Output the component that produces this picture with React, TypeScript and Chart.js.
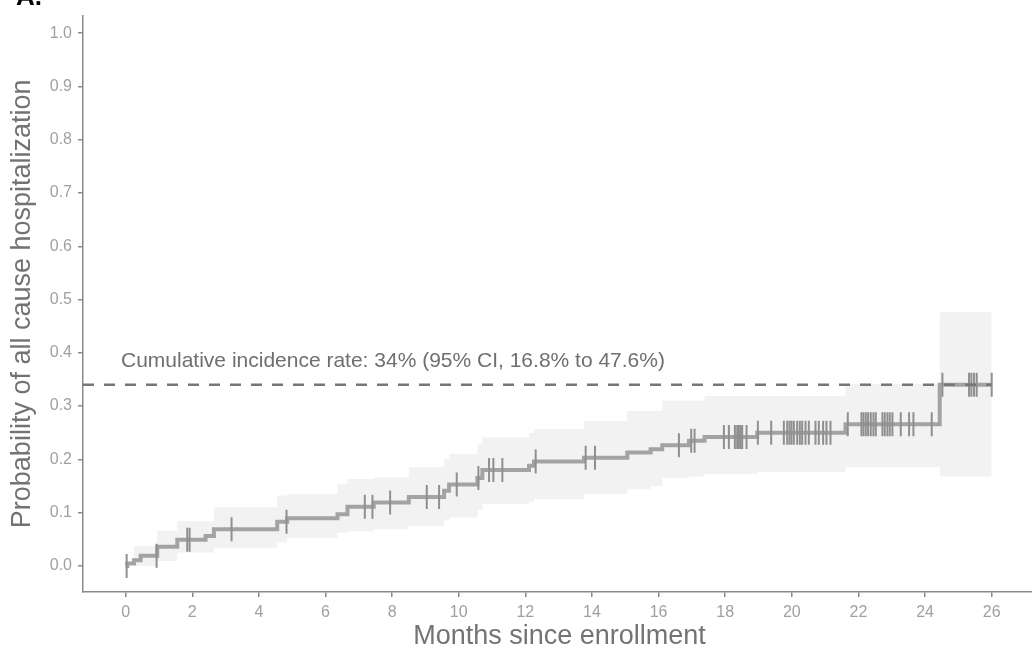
import React, { useEffect, useRef } from 'react';
import { Chart, registerables } from 'chart.js';

Chart.register(...registerables);

// ---- data ----
const eventTimes = [0, 0.05, 0.25, 0.45, 0.95, 1.55, 2.4, 2.65, 4.55, 4.85, 6.36, 6.66, 7.45, 8.5, 9.56, 9.71, 10.56, 10.71, 12.11, 12.26, 13.76, 15.06, 15.76, 16.11, 16.91, 17.38, 18.96, 21.61, 24.44];
const incidence = [0, 0.0045, 0.0107, 0.019, 0.036, 0.049, 0.056, 0.069, 0.083, 0.0895, 0.097, 0.111, 0.119, 0.1295, 0.141, 0.153, 0.165, 0.18, 0.188, 0.196, 0.203, 0.2127, 0.219, 0.2265, 0.2347, 0.242, 0.25, 0.266, 0.34];
const ciUpper = [0, 0.0045, 0.038, 0.038, 0.066, 0.084, 0.084, 0.11, 0.132, 0.135, 0.154, 0.163, 0.166, 0.185, 0.2, 0.21, 0.228, 0.241, 0.25, 0.257, 0.272, 0.291, 0.291, 0.31, 0.31, 0.319, 0.319, 0.342, 0.476];
const ciLower = [0, 0.0045, 0, 0, 0.009, 0.025, 0.025, 0.034, 0.044, 0.053, 0.062, 0.065, 0.069, 0.075, 0.085, 0.091, 0.105, 0.116, 0.12, 0.125, 0.135, 0.144, 0.15, 0.165, 0.168, 0.172, 0.176, 0.185, 0.168];
const endTime = 26;
const censorTimes = [0.03, 0.93, 1.85, 1.92, 3.18, 4.83, 7.18, 7.41, 7.94, 9.04, 9.41, 9.94, 10.59, 10.91, 11.04, 11.31, 12.31, 13.81, 14.09, 16.61, 16.98, 17.08, 17.96, 18.11, 18.29, 18.36, 18.41, 18.46, 18.51, 18.64, 18.98, 19.38, 19.76, 19.86, 19.93, 19.99, 20.06, 20.16, 20.24, 20.31, 20.41, 20.51, 20.71, 20.81, 20.94, 21.04, 21.16, 21.68, 22.09, 22.15, 22.22, 22.29, 22.37, 22.45, 22.52, 22.72, 22.79, 22.87, 22.94, 23.02, 23.27, 23.52, 23.65, 24.2, 24.52, 25.32, 25.39, 25.47, 25.55, 26.0];
const xTicks = [0, 2, 4, 6, 8, 10, 12, 14, 16, 18, 20, 22, 24, 26];
const yTicks = [0, 0.1, 0.2, 0.3, 0.4, 0.5, 0.6, 0.7, 0.8, 0.9, 1.0];
const summaryRate = 0.34;
const annotationText = 'Cumulative incidence rate: 34% (95% CI, 16.8% to 47.6%)';
const xTitle = 'Months since enrollment';
const yTitle = 'Probability of all cause hospitalization';
const panelLabel = 'A.';

const FONT = '"Liberation Sans", Arial, Helvetica, sans-serif';
const X_MIN = -1.28;
const X_MAX = 27.21;

function stepAt(t: number): number {
  let v = incidence[0];
  for (let i = 0; i < eventTimes.length; i++) {
    if (eventTimes[i] <= t) v = incidence[i];
  }
  return v;
}

function toPts(vals: number[]) {
  const pts = eventTimes.map((t, i) => ({ x: t, y: vals[i] }));
  pts.push({ x: endTime, y: vals[vals.length - 1] });
  return pts;
}

export default function App() {
  const ref = useRef<HTMLCanvasElement>(null);

  useEffect(() => {
    if (!ref.current) return;
    const textPlugin = {
      id: 'texts',
      afterDraw(chart: any) {
        const { ctx, scales } = chart;
        const x = scales.x;
        const y = scales.y;
        ctx.save();
        // annotation
        ctx.fillStyle = '#6f6f6f';
        ctx.font = `21px ${FONT}`;
        ctx.textAlign = 'left';
        ctx.textBaseline = 'middle';
        ctx.fillText(annotationText, 121, 361);
        // x title
        ctx.fillStyle = '#737373';
        ctx.font = `27px ${FONT}`;
        ctx.textAlign = 'center';
        ctx.fillText(xTitle, (x.left + x.right) / 2 + 2, 637);
        // y title
        ctx.save();
        ctx.translate(23, (y.top + y.bottom) / 2);
        ctx.rotate(-Math.PI / 2);
        ctx.fillText(yTitle, 0, 0);
        ctx.restore();
        // panel label
        ctx.fillStyle = '#000';
        ctx.font = `bold 26px ${FONT}`;
        ctx.textAlign = 'left';
        ctx.textBaseline = 'alphabetic';
        ctx.fillText(panelLabel, 16, 5);
        ctx.restore();
      },
    };

    const axisColor = '#8a8a8a';
    const tickColor = '#a0a0a0';

    const chart = new Chart(ref.current, {
      type: 'line',
      data: {
        datasets: [
          {
            label: 'upper',
            data: toPts(ciUpper),
            stepped: 'before',
            borderWidth: 0,
            borderColor: 'rgba(0,0,0,0)',
            pointRadius: 0,
            fill: '+1',
            backgroundColor: '#f2f2f2',
            order: 5,
          },
          {
            label: 'lower',
            data: toPts(ciLower),
            stepped: 'before',
            borderWidth: 0,
            borderColor: 'rgba(0,0,0,0)',
            pointRadius: 0,
            fill: false,
            order: 6,
          },
          {
            label: 'curve',
            data: toPts(incidence),
            stepped: 'before',
            borderColor: '#a3a3a3',
            borderWidth: 4,
            pointRadius: 0,
            fill: false,
            order: 3,
          },
          {
            type: 'scatter',
            label: 'censor',
            data: censorTimes.map((t) => ({ x: t, y: stepAt(t) })),
            pointStyle: 'line',
            rotation: 90,
            pointRadius: 12,
            borderColor: '#8f8f8f',
            backgroundColor: '#8f8f8f',
            borderWidth: 2,
            showLine: false,
            order: 2,
          },
          {
            label: 'rate',
            data: [
              { x: X_MIN, y: summaryRate },
              { x: endTime, y: summaryRate },
            ],
            borderColor: '#777777',
            borderWidth: 2.5,
            borderDash: [11, 10],
            pointRadius: 0,
            fill: false,
            order: 1,
          },
        ],
      } as any,
      options: {
        animation: false,
        responsive: false,
        maintainAspectRatio: false,
        layout: { autoPadding: false, padding: { top: 15, right: 0, left: 0, bottom: 0 } },
        plugins: {
          legend: { display: false },
          tooltip: { enabled: false },
          title: { display: false },
        },
        scales: {
          x: {
            type: 'linear',
            min: X_MIN,
            max: X_MAX,
            afterBuildTicks: (s: any) => {
              s.ticks = xTicks.map((v) => ({ value: v }));
            },
            afterFit: (s: any) => {
              s.height = 62;
            },
            ticks: {
              color: tickColor,
              font: { family: FONT, size: 16 },
              padding: 6,
              maxRotation: 0,
              autoSkip: false,
              callback: (v: any) => String(v),
            },
            grid: {
              drawOnChartArea: false,
              drawTicks: true,
              tickLength: 5,
              color: axisColor,
              lineWidth: 1.5,
            },
            border: { display: true, color: axisColor, width: 1.5 },
          },
          y: {
            type: 'linear',
            min: -0.049,
            max: 1.033,
            afterBuildTicks: (s: any) => {
              s.ticks = yTicks.map((v) => ({ value: v }));
            },
            afterFit: (s: any) => {
              s.width = 83;
            },
            ticks: {
              color: tickColor,
              font: { family: FONT, size: 16 },
              padding: 6,
              callback: (v: any) => Number(v).toFixed(1),
            },
            grid: {
              drawOnChartArea: false,
              drawTicks: true,
              tickLength: 5,
              color: axisColor,
              lineWidth: 1.5,
            },
            border: { display: true, color: axisColor, width: 1.5 },
          },
        },
      } as any,
      plugins: [textPlugin],
    });
    return () => chart.destroy();
  }, []);

  return (
    <div style={{ position: 'absolute', left: 0, top: 0, width: 1032, height: 654, background: '#fff' }}>
      <canvas ref={ref} width={1032} height={654} style={{ display: 'block' }} />
    </div>
  );
}
